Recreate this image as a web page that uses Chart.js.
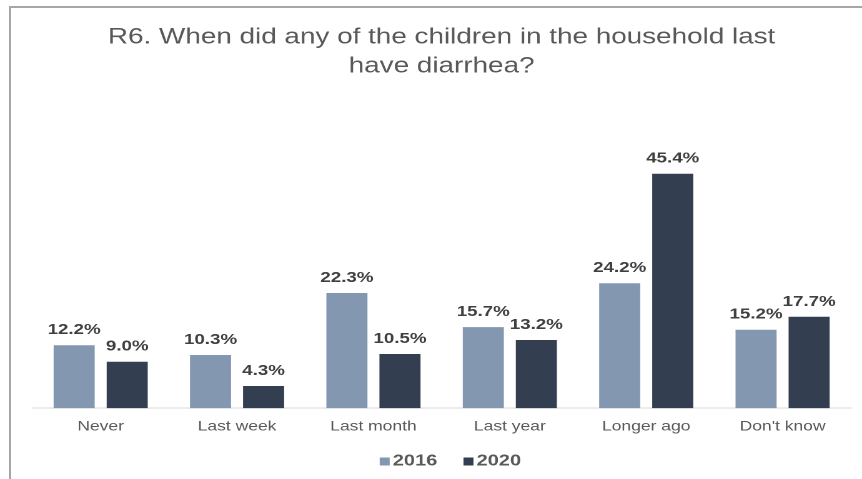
<!DOCTYPE html>
<html lang="en">
<head>
  <meta charset="UTF-8" />
  <title>R6 diarrhea</title>
  <style>
    html, body { margin: 0; padding: 0; background: #ffffff; overflow: hidden; }
    .frame { position: absolute; left: 9px; top: 6px; right: -10px; bottom: -10px;
             border-top: 2px solid #a6a6a6; border-left: 2px solid #a6a6a6; }
    .wrap { position: absolute; left: 0; top: 0; width: 690px; height: 479px;
            transform: scaleX(1.2493); transform-origin: 0 0; }
  </style>
</head>
<body>
  <div class="frame"></div>
  <div class="wrap"><canvas id="chart"></canvas></div>
  <script src="https://cdn.jsdelivr.net/npm/chart.js"></script>
  <script>
    const categories = ['Never', 'Last week', 'Last month', 'Last year', 'Longer ago', "Don't know"];
    const years = ['2016', '2020'];
    const values2016 = [12.2, 10.3, 22.3, 15.7, 24.2, 15.2];
    const values2020 = [9.0, 4.3, 10.5, 13.2, 45.4, 17.7];

    const FONT = "'Liberation Sans', Arial, sans-serif";

    // percentage labels above each bar
    const barLabels = {
      id: 'barLabels',
      afterDatasetsDraw(chart) {
        const ctx = chart.ctx;
        ctx.save();
        ctx.font = `bold 15px ${FONT}`;
        ctx.fillStyle = '#404040';
        ctx.textAlign = 'center';
        ctx.textBaseline = 'alphabetic';
        chart.data.datasets.forEach((ds, i) => {
          chart.getDatasetMeta(i).data.forEach((bar, j) => {
            ctx.fillText(ds.data[j].toFixed(1) + '%', bar.x, bar.y - 11);
          });
        });
        ctx.restore();
      }
    };

    // compact legend: small square sitting on the baseline, tight gap before the text
    const yearLegend = {
      id: 'yearLegend',
      afterDraw(chart) {
        const ctx = chart.ctx;
        const box = 8, gap = 2.5, itemGap = 21;
        ctx.save();
        ctx.font = `bold 16px ${FONT}`;
        ctx.textBaseline = 'alphabetic';
        ctx.textAlign = 'left';
        const items = chart.data.datasets.map(ds => ({
          text: ds.label, color: ds.backgroundColor, w: ctx.measureText(ds.label).width
        }));
        const total = items.reduce((s, it) => s + box + gap + it.w, 0) + itemGap * (items.length - 1);
        const area = chart.chartArea;
        let x = (area.left + area.right) / 2 - total / 2 + 7;
        const baseY = chart.height - 13.5;
        items.forEach(it => {
          ctx.fillStyle = it.color;
          ctx.fillRect(x, baseY - box, box, box);
          x += box + gap;
          ctx.fillStyle = '#595959';
          ctx.fillText(it.text, x, baseY);
          x += it.w + itemGap;
        });
        ctx.restore();
      }
    };

    new Chart(document.getElementById('chart').getContext('2d'), {
      type: 'bar',
      data: {
        labels: categories,
        datasets: [
          { label: years[0], data: values2016, backgroundColor: '#8497b0' },
          { label: years[1], data: values2020, backgroundColor: '#333f50' }
        ]
      },
      options: {
        responsive: true,
        maintainAspectRatio: false,
        devicePixelRatio: 2,
        animation: false,
        layout: { padding: { left: 26, right: 9, top: 0, bottom: 34 } },
        datasets: { bar: { categoryPercentage: 0.778, barPercentage: 0.774 } },
        plugins: {
          title: {
            display: true,
            fullSize: false,
            text: ['R6. When did any of the children in the household last', 'have diarrhea?'],
            color: '#595959',
            font: { family: FONT, size: 22.3, weight: 'normal', lineHeight: 1.3 },
            padding: { top: 23, bottom: 69 }
          },
          legend: { display: false },
          tooltip: { enabled: false }
        },
        scales: {
          x: {
            grid: { display: false, drawTicks: false },
            border: { display: true, color: '#d9d9d9', width: 1 },
            ticks: { color: '#595959', font: { family: FONT, size: 14 }, padding: 10 }
          },
          y: { display: false, min: 0, max: 50 }
        }
      },
      plugins: [barLabels, yearLegend]
    });
  </script>
</body>
</html>
